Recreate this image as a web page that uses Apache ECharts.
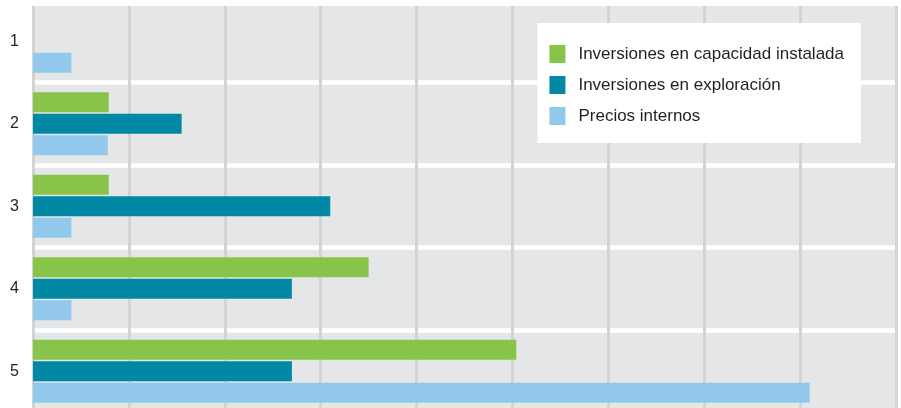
<!DOCTYPE html>
<html>
<head>
<meta charset="utf-8">
<script src="https://cdn.jsdelivr.net/npm/echarts@6/dist/echarts.min.js"></script>
<style>
  html, body { margin: 0; padding: 0; background: #fff; }
  #chart { width: 901px; height: 408px; }
</style>
</head>
<body>
<div id="chart"></div>
<script>
// categories, top to bottom
const categories = ["1", "2", "3", "4", "5"];

// values, in gridline units
const capacidadInstalada = [0, 0.79, 0.79, 3.5, 5.04];
const exploracion = [0, 1.55, 3.1, 2.7, 2.7];
const preciosInternos = [0.4, 0.78, 0.4, 0.4, 8.1];

const seriesNames = [
    "Inversiones en capacidad instalada",
    "Inversiones en exploración",
    "Precios internos"
];
const colors = ["#89c44a", "#0088a5", "#92c8ec"];

const chart = echarts.init(document.getElementById("chart"));

function bar(name, data, color) {
    return {
        name,
        type: "bar",
        data,
        barWidth: 20,
        barGap: "8%",
        itemStyle: { color },
        silent: true
    };
}

chart.setOption({
    animation: false,
    textStyle: { fontFamily: "Liberation Sans" },
    grid: {
        left: 33,
        right: 5,
        top: 0,
        height: 412.5,
        outerBoundsMode: "none",
        show: true,
        backgroundColor: "#e5e6e8",
        borderWidth: 0
    },
    legend: {
        orient: "vertical",
        right: 40,
        top: 23,
        backgroundColor: "#fff",
        padding: [22, 17, 18, 12],
        itemWidth: 16,
        itemHeight: 18,
        itemGap: 13,
        icon: "rect",
        textStyle: {
            fontSize: 17,
            color: "#231f20",
            padding: [0, 0, 0, 8]
        },
        data: seriesNames
    },
    xAxis: {
        type: "value",
        min: 0,
        max: 9,
        interval: 1,
        z: 1,
        axisLabel: { show: false },
        axisLine: { show: false },
        axisTick: { show: false },
        splitLine: {
            show: true,
            showMinLine: true,
            showMaxLine: true,
            lineStyle: { color: "#d2d3d5", width: 3 }
        }
    },
    yAxis: {
        type: "category",
        data: categories,
        inverse: true,
        z: 0,
        axisLine: { show: false },
        axisTick: { show: false },
        axisLabel: {
            fontSize: 16,
            color: "#231f20",
            margin: 14
        },
        splitLine: {
            show: true,
            lineStyle: { color: "#fff", width: 4.5 }
        }
    },
    graphic: [{
        type: "rect",
        z: 100,
        shape: { x: 0, y: 0, width: 901, height: 6 },
        style: { fill: "#fff" }
    }],
    series: [
        bar(seriesNames[0], capacidadInstalada, colors[0]),
        bar(seriesNames[1], exploracion, colors[1]),
        bar(seriesNames[2], preciosInternos, colors[2])
    ]
});
</script>
</body>
</html>
